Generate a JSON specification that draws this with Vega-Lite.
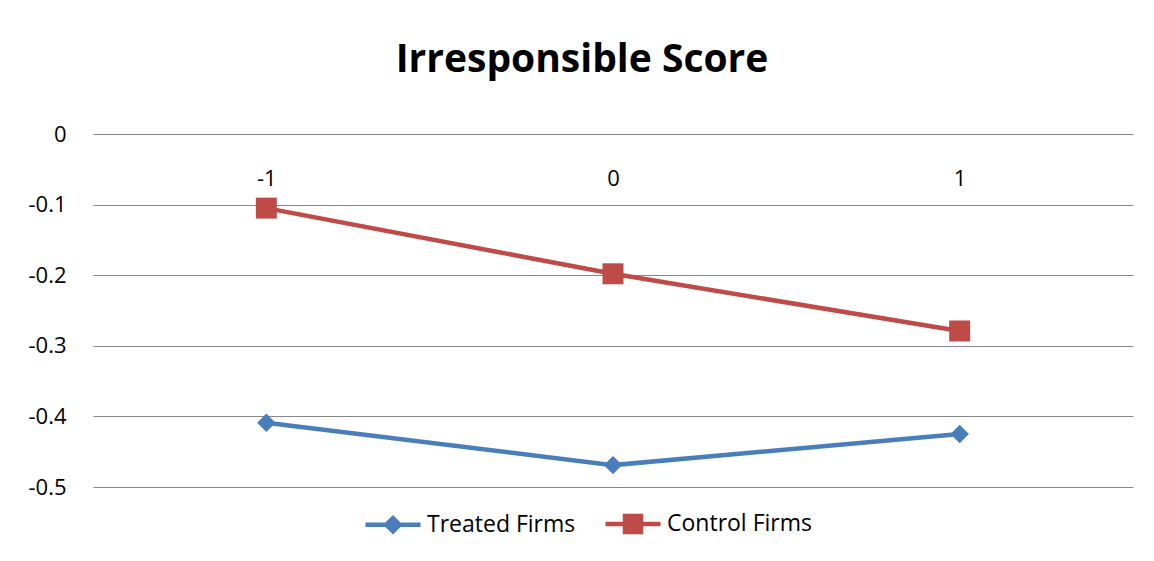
{
  "$schema": "https://vega.github.io/schema/vega-lite/v6.json",
  "autosize": "none",
  "width": 1040,
  "height": 353,
  "padding": {"left": 93, "top": 134, "right": 21, "bottom": 74},
  "background": "white",
  "title": {"text": "Irresponsible Score", "font": "Open Sans", "fontSize": 39, "fontWeight": "bold", "color": "#000000", "anchor": "middle", "dx": -31, "offset": 12, "baseline": "alphabetic"},
  "config": {"view": {"stroke": null}, "font": "Open Sans"},
  "data": {"values": [
    {"period": "-1", "series": "Treated Firms", "score": -0.409},
    {"period": "0", "series": "Treated Firms", "score": -0.469},
    {"period": "1", "series": "Treated Firms", "score": -0.425},
    {"period": "-1", "series": "Control Firms", "score": -0.105},
    {"period": "0", "series": "Control Firms", "score": -0.198},
    {"period": "1", "series": "Control Firms", "score": -0.279}
  ]},
  "encoding": {
    "x": {"field": "period", "type": "ordinal", "sort": ["-1", "0", "1"], "scale": {"type": "point", "padding": 0.5},
      "axis": {"orient": "top", "title": null, "domain": false, "ticks": false, "grid": false, "labelAngle": 0, "labelFont": "Open Sans", "labelFontSize": 22, "labelColor": "#000000", "labelBaseline": "middle", "labelPadding": -44}},
    "y": {"field": "score", "type": "quantitative", "scale": {"domain": [-0.5, 0], "nice": false, "zero": false},
      "axis": {"title": null, "values": [0, -0.1, -0.2, -0.3, -0.4, -0.5], "format": ".1~f", "labelExpr": "replace(datum.label, '\u2212', '-')", "domain": false, "ticks": false, "labelFont": "Open Sans", "labelFontSize": 22, "labelColor": "#000000", "labelPadding": 27, "gridColor": "#868686", "gridWidth": 1.2}},
    "color": {"field": "series", "type": "nominal", "scale": {"domain": ["Treated Firms", "Control Firms"], "range": ["#4A7EBB", "#BE4B48"]},
      "legend": {"title": null, "orient": "none", "legendX": 270, "legendY": 360, "direction": "horizontal", "labelFont": "Open Sans", "labelFontSize": 23, "labelColor": "#000000", "symbolSize": 3025, "symbolStrokeWidth": 4, "columnPadding": 20, "labelOffset": 4,
        "encode": {"symbols": {"update": {
          "shape": {"signal": "datum.value === 'Treated Firms' ? 'M-1,0H1M-0.24,0L0,-0.24L0.24,0L0,0.24Z' : 'M-1,0H1M-0.29,-0.29H0.29V0.29H-0.29Z'"},
          "fill": {"signal": "datum.value === 'Treated Firms' ? '#4A7EBB' : '#BE4B48'"},
          "stroke": {"signal": "datum.value === 'Treated Firms' ? '#4A7EBB' : '#BE4B48'"},
          "strokeWidth": {"value": 4.5},
          "opacity": {"value": 1}
        }}}}
    }
  },
  "layer": [
    {"mark": {"type": "line", "strokeWidth": 4.5}},
    {"transform": [{"filter": "datum.series === 'Treated Firms'"}], "mark": {"type": "point", "filled": true, "opacity": 1, "shape": "diamond", "size": 340}},
    {"transform": [{"filter": "datum.series === 'Control Firms'"}], "mark": {"type": "point", "filled": true, "opacity": 1, "shape": "square", "size": 440}}
  ]
}
